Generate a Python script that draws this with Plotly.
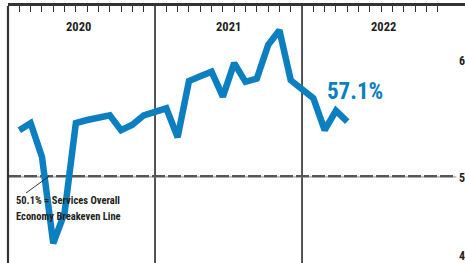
import plotly.graph_objects as go

# ---------------- data ----------------
years = [2020, 2021, 2022]
months_2020 = [1, 2, 3, 4, 5, 6, 7, 8, 9, 10, 11, 12]
values_2020 = [56.0, 56.9, 52.6, 41.5, 45.4, 56.9, 57.3, 57.6, 57.9, 56.0, 56.7, 57.9]
months_2021 = [1, 2, 3, 4, 5, 6, 7, 8, 9, 10, 11, 12]
values_2021 = [58.8, 55.1, 62.3, 62.9, 63.5, 60.3, 64.6, 62.2, 62.6, 66.9, 68.8, 62.4]
months_2022 = [1, 2, 3, 4]
values_2022 = [60.1, 56.0, 58.5, 57.1]

breakeven = 50.1
last_label = "57.1%"
note_lines = ["50.1% = Services Overall", "Economy Breakeven Line"]
ytick_vals = [40, 50, 65]
ytick_text = ["4", "5", "6"]

# ---------------- layout constants ----------------
SLOTS = 13  # 12 months + one gap slot per year
BLUE = "#0b7fc0"
DARK = "#231f20"
FONT = ("Noto Sans ExtraCondensed, Roboto Condensed, Liberation Sans Narrow, "
        "Arial Narrow, DejaVu Sans Condensed, sans-serif")
PX = 11.31  # pixels per slot

xs, ys = [], []
for k, (ms, vs) in enumerate([(months_2020, values_2020),
                              (months_2021, values_2021),
                              (months_2022, values_2022)]):
    for m, v in zip(ms, vs):
        xs.append(k * SLOTS + m)
        ys.append(v)

tick_positions = [k * SLOTS + m for k in range(len(years)) for m in range(1, 13)]

W, H = 465, 263
x_range = [0, 40.41]
y_range = [38.97, 71.92]

fig = go.Figure()
fig.add_trace(go.Scatter(x=xs, y=ys, mode="lines",
                         line=dict(color=BLUE, width=6.5),
                         hoverinfo="skip", showlegend=False))

shapes = []
for k in range(1, len(years)):
    shapes.append(dict(type="line", xref="x", yref="paper", x0=k * SLOTS, x1=k * SLOTS,
                       y0=0, y1=1, line=dict(color="#2a2a2a", width=1.6), layer="below"))
shapes.append(dict(type="line", xref="paper", yref="paper", x0=0, x1=0, y0=0, y1=1,
                   line=dict(color="#333333", width=2.2)))
shapes.append(dict(type="line", xref="x", yref="y", x0=0, x1=39.65, y0=50, y1=50,
                   line=dict(color="#8a8a8a", width=1), layer="below"))
shapes.append(dict(type="line", xref="x", yref="y", x0=0, x1=39.55, y0=breakeven, y1=breakeven,
                   line=dict(color="#555555", width=2.2, dash="13px,3px"), layer="below"))
shapes.append(dict(type="line", xref="x", yref="y", x0=1.6, y0=47.95, x1=3.63, y1=breakeven,
                   line=dict(color=DARK, width=0.9)))

annotations = []
year_label_x = [6.2, 19.5, 33.2]
for yr, xp in zip(years, year_label_x):
    annotations.append(dict(x=xp, y=69.3, xref="x", yref="y", text=f"<b>{yr}</b>",
                            showarrow=False, font=dict(family=FONT, size=12.5, color=DARK)))
for v, t in zip(ytick_vals, ytick_text):
    annotations.append(dict(x=40.15, y=v - 0.1, xref="x", yref="y", text=f"<b>{t}</b>",
                            showarrow=False, font=dict(family=FONT, size=12, color=DARK)))
annotations.append(dict(x=(355 - 8) / PX, y=60.9, xref="x", yref="y",
                        xanchor="center", text=f"<b>{last_label}</b>", showarrow=False,
                        font=dict(family=FONT, size=23, color=BLUE)))
for i, line in enumerate(note_lines):
    annotations.append(dict(x=(13.5 - 8) / PX, y=[47.0, 44.95][i], xref="x", yref="y",
                            xanchor="left", text=f"<b>{line}</b>", showarrow=False,
                            font=dict(family=FONT, size=10.5, color=DARK)))

fig.update_layout(
    width=W, height=H,
    margin=dict(l=8, r=0, t=6, b=0),
    paper_bgcolor="white", plot_bgcolor="white",
    shapes=shapes, annotations=annotations,
    xaxis=dict(range=x_range, side="top", showgrid=False, zeroline=False,
               showline=True, linecolor="#333333", linewidth=2.5,
               ticks="inside", ticklen=6, tickwidth=1.3, tickcolor="#333333",
               tickvals=tick_positions, showticklabels=False, fixedrange=True),
    yaxis=dict(range=y_range, showgrid=False, zeroline=False, showline=False,
               showticklabels=False, ticks="", fixedrange=True),
)

fig.write_html("out.html", config={"displayModeBar": False},
               post_script="document.body.style.margin='0';document.body.style.overflow='hidden';")
